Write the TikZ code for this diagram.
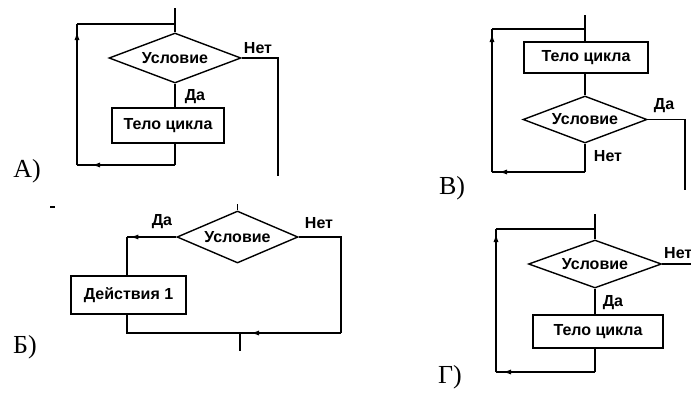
\documentclass[tikz,border=0pt]{standalone}
\usepackage{fontspec}
\setmainfont{Liberation Serif}
\setsansfont{Liberation Sans}
\usetikzlibrary{shapes.geometric,arrows.meta,decorations.markings}
\tikzset{
  lbl/.style={font=\fontsize{16}{16}\selectfont\sffamily\bfseries, inner sep=0pt},
  letter/.style={font=\fontsize{26}{26}\selectfont, inner sep=0pt},
  wire/.style={line width=1.8pt},
  boxnode/.style={draw, line width=1.4pt, inner sep=0pt, font=\fontsize{16}{16}\selectfont\sffamily\bfseries},
  cond/.style={draw, diamond, aspect=2.6, line width=1.4pt, inner sep=0pt, font=\fontsize{16}{16}\selectfont\sffamily\bfseries},
  arrowat/.style={postaction={decorate, decoration={markings, mark=at position #1 with {\arrow{Latex[length=9pt,width=5pt]}}}}}
}
\begin{document}
\begin{tikzpicture}[x=1pt,y=-1pt]
\useasboundingbox (0,0) rectangle (691,392);

% ---------------- A ----------------
\node[cond, minimum width=132pt, minimum height=50pt] (Ad) at (175,58) {Условие};
\node[boxnode, minimum width=112pt, minimum height=35pt] (Ab) at (168,125.5) {Тело цикла};
\coordinate (Atop) at (175,8);
\coordinate (Ajoin) at (175,24);
\coordinate (Atl) at (77,24);
\coordinate (Abl) at (77,165);
\coordinate (Abr) at (175,165);
\coordinate (Anr) at (278,58);
\coordinate (Anb) at (278,176);
\draw[wire] (Atop) -- (Ad.north);
\draw[wire] (Ad.south) -- (Ad.south |- Ab.north);
\draw[wire] (Ad.south |- Ab.south) -- (Abr);
\draw[wire, arrowat=84pt] (Abr) -- (Abl);
\draw[wire, arrowat=134pt] (Abl) -- (Atl);
\draw[wire] (Atl) -- (Ajoin);
\draw[wire] (Ad.east) -- (Anr) -- (Anb);
\node[lbl] (Ano) at (258,48) {Нет};
\node[lbl] (Ayes) at (195,97) {Да};
\node[letter] (Alet) at (27,171) {А)};

% ---------------- B (В) ----------------
\node[boxnode, minimum width=124pt, minimum height=31pt] (Bb) at (586,57.5) {Тело цикла};
\node[cond, minimum width=124pt, minimum height=47pt] (Bd) at (585,119.5) {Условие};
\coordinate (Btop) at (585,15);
\coordinate (Bjoin) at (585,29);
\coordinate (Btl) at (492,29);
\coordinate (Bbl) at (492,172);
\coordinate (Bbr) at (585,172);
\coordinate (Byr) at (685,119.5);
\coordinate (Byb) at (685,190);
\draw[wire] (Btop) -- (Bb.north -| Btop);
\draw[wire] (Bb.south -| Btop) -- (Bd.north);
\draw[wire] (Bd.south) -- (Bbr);
\draw[wire, arrowat=87pt] (Bbr) -- (Bbl);
\draw[wire, arrowat=139pt] (Bbl) -- (Btl);
\draw[wire] (Btl) -- (Bjoin);
\draw[wire] (Bd.east) -- (Byr) -- (Byb);
\node[lbl] (Byes) at (664,106) {Да};
\node[lbl] (Bno) at (608,156) {Нет};
\node[letter] (Blet) at (452,188) {В)};

% ---------------- Б ----------------
\node[cond, minimum width=121pt, minimum height=52pt] (Cd) at (237.5,237) {Условие};
\node[boxnode, minimum width=115pt, minimum height=38pt] (Cb) at (128.5,295) {Действия 1};
\coordinate (Ctop) at (237.5,204);
\coordinate (Cyl) at (127,237);
\coordinate (Cbl) at (127,333);
\coordinate (Cbr) at (341,333);
\coordinate (Cnr) at (341,237);
\coordinate (Cexit) at (240,333);
\coordinate (Cexitb) at (240,351);
\coordinate (Cdash1) at (50,207);
\coordinate (Cdash2) at (55,207);
\draw[wire] (Ctop) -- (Cd.north);
\draw[wire, arrowat=47pt] (Cd.west) -- (Cyl);
\draw[wire] (Cyl) -- (Cyl |- Cb.north);
\draw[wire] (Cyl |- Cb.south) -- (Cbl) -- (Cbr);
\draw[wire] (Cd.east) -- (Cnr) -- (Cbr);
\draw[wire, arrowat=91pt] (Cbr) -- (Cexit);
\draw[wire] (Cexit) -- (Cexitb);
\draw[line width=1.4pt] (Cdash1) -- (Cdash2);
\node[lbl] (Cyes) at (162,222) {Да};
\node[lbl] (Cno) at (319,223) {Нет};
\node[letter] (Clet) at (25,347) {Б)};

% ---------------- Г ----------------
\node[cond, minimum width=133pt, minimum height=48pt] (Dd) at (595,264) {Условие};
\node[boxnode, minimum width=130pt, minimum height=33pt] (Db) at (598,331.5) {Тело цикла};
\coordinate (Dtop) at (595,214);
\coordinate (Djoin) at (595,229);
\coordinate (Dtl) at (496,229);
\coordinate (Dbl) at (496,372);
\coordinate (Dbr) at (595,372);
\coordinate (Dnr) at (695,264);
\draw[wire] (Dtop) -- (Dd.north);
\draw[wire] (Dd.south) -- (Dd.south |- Db.north);
\draw[wire] (Dd.south |- Db.south) -- (Dbr);
\draw[wire, arrowat=93pt] (Dbr) -- (Dbl);
\draw[wire, arrowat=139pt] (Dbl) -- (Dtl);
\draw[wire] (Dtl) -- (Djoin);
\draw[wire] (Dd.east) -- (Dnr);
\node[lbl, anchor=west] (Dno) at (664,253) {Нет};
\node[lbl] (Dyes) at (613,303) {Да};
\node[letter] (Dlet) at (450,377) {Г)};
\end{tikzpicture}
\end{document}
